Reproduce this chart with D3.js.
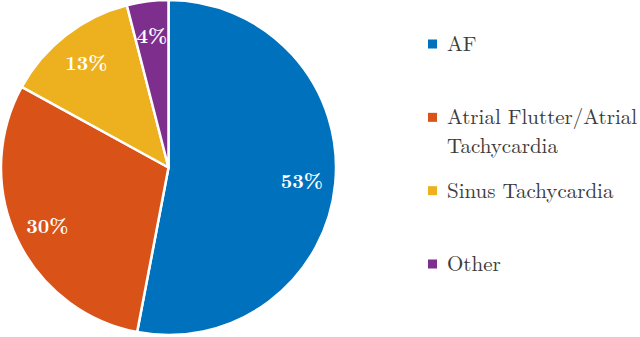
<!DOCTYPE html>
<html>
<head>
<meta charset="utf-8">
<script src="https://cdn.jsdelivr.net/npm/d3@7"></script>
<style>
  html, body { margin: 0; padding: 0; background: #fff; }
  svg { display: block; }
</style>
</head>
<body>
<svg id="chart"></svg>
<script>
// chart data
const categories = ['AF', 'Atrial Flutter/Atrial\nTachycardia', 'Sinus Tachycardia', 'Other']
const values = [53, 30, 13, 4]
const colors = ['#0072BD', '#D95319', '#EDB120', '#7E2F8E']

const width = 640
const height = 337
const font = "'Latin Modern Roman', 'CMU Serif', 'Liberation Serif', serif"

/* CONFIG */
const config = {
  cx: 168.5,
  cy: 167.5,
  radius: 167.5,
  labelRadius: 0.8,
  legendX: 428,
  legendTop: 44,
  legendBottom: 264,
  swatch: 9,
  lineHeight: 29
}

const svg = d3.select('#chart')
  .attr('width', width)
  .attr('height', height)

const color = d3.scaleOrdinal().domain(categories).range(colors)

const pie = d3.pie().sort(null).value(d => d.value)
const arcs = pie(categories.map((c, i) => ({ name: c, value: values[i] })))

const arc = d3.arc().innerRadius(0).outerRadius(config.radius)
const labelArc = d3.arc()
  .innerRadius(config.radius * config.labelRadius)
  .outerRadius(config.radius * config.labelRadius)

const g = svg.append('g')
  .attr('transform', `translate(${config.cx},${config.cy})`)

g.selectAll('path.slice')
  .data(arcs)
  .join('path')
  .attr('class', 'slice')
  .attr('d', arc)
  .attr('fill', d => color(d.data.name))
  .attr('stroke', '#fff')
  .attr('stroke-width', 2.5)
  .attr('stroke-linejoin', 'round')

const total = d3.sum(values)
g.selectAll('text.pct')
  .data(arcs)
  .join('text')
  .attr('class', 'pct')
  .attr('transform', d => `translate(${labelArc.centroid(d)})`)
  .attr('text-anchor', 'middle')
  .attr('dy', '0.4em')
  .attr('fill', '#fff')
  .style('font-family', font)
  .style('font-weight', 'bold')
  .style('font-size', '20px')
  .text(d => Math.round(d.data.value / total * 100) + '%')

// legend
const ly = d3.scalePoint()
  .domain(categories)
  .range([config.legendTop, config.legendBottom])

const legend = svg.append('g')
  .selectAll('g')
  .data(categories)
  .join('g')
  .attr('transform', d => `translate(${config.legendX},${ly(d)})`)

legend.append('rect')
  .attr('x', 0)
  .attr('y', -config.swatch / 2)
  .attr('width', config.swatch)
  .attr('height', config.swatch)
  .attr('fill', d => color(d))

legend.append('text')
  .attr('fill', '#3c3c3c')
  .style('font-family', font)
  .style('font-size', '21px')
  .selectAll('tspan')
  .data(d => d.split('\n'))
  .join('tspan')
  .attr('x', 19)
  .attr('y', (d, i) => i * config.lineHeight)
  .attr('dy', '0.33em')
  .text(d => d)
</script>
</body>
</html>
